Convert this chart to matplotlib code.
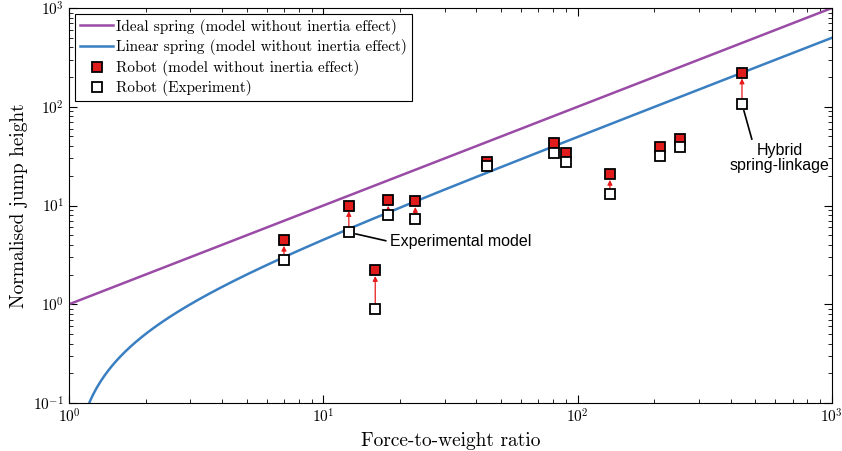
import numpy as np
import matplotlib
matplotlib.use("Agg")
import matplotlib.pyplot as plt

plt.rcParams["font.family"] = "serif"
plt.rcParams["font.serif"] = ["cmr10"]
plt.rcParams["mathtext.fontset"] = "cm"
plt.rcParams["axes.formatter.use_mathtext"] = True

# force-to-weight ratio of each robot
ratio = [7, 12.6, 16, 18, 23, 44, 81, 90, 134, 211, 253, 443]
# normalised jump height, model without inertia effect
h_model = [4.45, 10.0, 2.2, 11.3, 11.0, 27.5, 43, 34, 20.7, 39, 47, 220]
# normalised jump height, experiment
h_exp = [2.8, 5.35, 0.9, 7.95, 7.25, 25, 34, 27.5, 13, 31.5, 39, 107]

# model curves: ideal spring h = F/W, linear spring h = (F/W - 1) / 2
fw = np.logspace(0, 3, 600)
h_ideal = fw
h_linear = (fw - 1) / 2

fig = plt.figure(figsize=(8.42, 4.51), dpi=100)
ax = fig.add_axes([0.082, 0.1064, 0.906, 0.8758])

ax.plot(fw, h_ideal, color="#9a4ba6", lw=1.8,
        label="Ideal spring (model without inertia effect)")
ax.plot(fw[h_linear > 0], h_linear[h_linear > 0], color="#3a7fc1", lw=1.8,
        label="Linear spring (model without inertia effect)")

for x, y0, y1 in zip(ratio, h_exp, h_model):
    ax.annotate("", xy=(x, y1), xytext=(x, y0),
                arrowprops=dict(arrowstyle="-|>", color="#e8191a", lw=0.9,
                                mutation_scale=7, shrinkA=4, shrinkB=4))

ax.plot(ratio, h_model, ls="none", marker="s", ms=7, mfc="#e01b1b",
        mec="black", mew=1.3, label="Robot (model without inertia effect)", zorder=4)
ax.plot(ratio, h_exp, ls="none", marker="s", ms=7, mfc="white",
        mec="black", mew=1.3, label="Robot (Experiment)", zorder=4)

sans = ["Liberation Sans", "DejaVu Sans"]
ax.annotate("Experimental model", xy=(ratio[1], h_exp[1]), xytext=(18.3, 4.3),
            fontsize=11.5, family=sans, va="center", ha="left",
            arrowprops=dict(arrowstyle="-", color="black", lw=1.2,
                            relpos=(0, 0.5), shrinkA=1, shrinkB=5))
ax.annotate("Hybrid\nspring-linkage", xy=(ratio[-1], h_exp[-1]), xytext=(625, 30),
            fontsize=11.5, family=sans, va="center", ha="center", linespacing=1.0,
            arrowprops=dict(arrowstyle="-", color="black", lw=1.2,
                            relpos=(0.23, 1.0), shrinkA=1, shrinkB=5))

ax.set_xscale("log")
ax.set_yscale("log")
ax.set_xlim(1, 1000)
ax.set_ylim(0.1, 1000)
ax.tick_params(which="both", direction="in", top=True, right=True, labelsize=11)
ax.tick_params(which="major", length=6)
ax.tick_params(which="minor", length=3)
ax.set_xlabel("Force-to-weight ratio", fontsize=14)
ax.set_ylabel("Normalised jump height", fontsize=14)

leg = ax.legend(loc="upper left", fontsize=11, fancybox=False, framealpha=1,
                edgecolor="black", handlelength=2.2, handletextpad=0.2,
                borderpad=0.3, labelspacing=0.3, borderaxespad=0.4)
leg.get_frame().set_linewidth(0.8)

fig.savefig("out.png", dpi=100)
